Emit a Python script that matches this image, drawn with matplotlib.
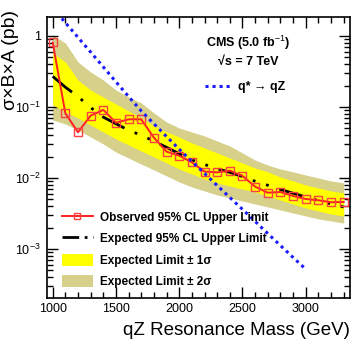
import numpy as np
import matplotlib
matplotlib.use("Agg")
import matplotlib.pyplot as plt
from matplotlib.patches import Patch
from matplotlib.lines import Line2D
from matplotlib.ticker import FixedLocator, FixedFormatter, NullFormatter, MultipleLocator

plt.rcParams['font.family'] = ['Liberation Sans', 'DejaVu Sans']
plt.rcParams['mathtext.fontset'] = 'custom'
plt.rcParams['mathtext.rm'] = 'Liberation Sans'
plt.rcParams['mathtext.it'] = 'Liberation Sans:italic'
plt.rcParams['mathtext.bf'] = 'Liberation Sans:bold'

# ---- data ----
mass = [1000, 1100, 1200, 1300, 1400, 1500, 1600, 1700, 1800, 1900, 2000, 2100,
        2200, 2300, 2400, 2500, 2600, 2700, 2800, 2900, 3000, 3100, 3200, 3300]
observed = [0.81, 0.0815, 0.044, 0.0755, 0.091, 0.060, 0.067, 0.067, 0.037, 0.0235,
            0.0206, 0.0166, 0.0123, 0.0120, 0.0127, 0.0107, 0.00755, 0.0062, 0.00635,
            0.00557, 0.00506, 0.00485, 0.00455, 0.00459]
expected = [0.27, 0.19, 0.14, 0.098, 0.072, 0.058, 0.047, 0.040, 0.033, 0.027, 0.022,
            0.018, 0.0155, 0.0135, 0.012, 0.0105, 0.0090, 0.0079, 0.0069, 0.0061,
            0.0054, 0.0048, 0.0043, 0.0039]
up2 = [1.03, 0.797, 0.430, 0.311, 0.240, 0.173, 0.138, 0.114, 0.0823, 0.0615, 0.0506,
       0.0444, 0.0391, 0.0332, 0.0282, 0.0225, 0.0179, 0.0152, 0.0134, 0.0122, 0.0110,
       0.0100, 0.00908, 0.00851]
up1 = [0.576, 0.430, 0.240, 0.173, 0.138, 0.110, 0.0879, 0.070, 0.054, 0.0444, 0.0378,
       0.0311, 0.0265, 0.0225, 0.0191, 0.0163, 0.0138, 0.0122, 0.0103, 0.00908, 0.00797,
       0.00723, 0.00656, 0.00615]
dn1 = [0.1067, 0.0851, 0.0700, 0.0558, 0.0444, 0.0354, 0.0292, 0.0240, 0.0198, 0.0163,
       0.0134, 0.0114, 0.00968, 0.00851, 0.00771, 0.00700, 0.00635, 0.00557, 0.00490,
       0.00430, 0.00378, 0.00343, 0.00311, 0.00292]
dn2 = [0.0656, 0.0576, 0.0474, 0.0378, 0.0301, 0.0232, 0.0191, 0.0157, 0.0130, 0.0107,
       0.00879, 0.00747, 0.00656, 0.00577, 0.00523, 0.00474, 0.00430, 0.00391, 0.00354,
       0.00321, 0.00292, 0.00265, 0.00248, 0.00232]
theory_mass = [1000, 1100, 1200, 1300, 1400, 1500, 1600, 1700, 1800, 1900, 2000,
               2100, 2200, 2300, 2400, 2500, 2600, 2700, 2800, 2900, 3000]
theory = [2.5, 1.54, 0.955, 0.593, 0.366, 0.226, 0.140, 0.0879, 0.0580, 0.0383, 0.0254,
          0.0171, 0.0116, 0.00784, 0.00531, 0.00362, 0.00245, 0.00165, 0.00112,
          0.00076, 0.00052]

ytick_vals = [1e-3, 1e-2, 1e-1, 1]
ytick_labels = ['$10^{-3}$', '$10^{-2}$', '$10^{-1}$', '1']
xtick_vals = [1000, 1500, 2000, 2500, 3000]

# ---- figure ----
fig = plt.figure(figsize=(3.57, 3.44), dpi=100)
ax = fig.add_axes([47/357, 46/344, 303/357, 281/344])

yellow = '#ffff00'
khaki = '#d6d08a'

b2 = ax.fill_between(mass, dn2, up2, color=khaki, lw=0, zorder=1)
b1 = ax.fill_between(mass, dn1, up1, color=yellow, lw=0, zorder=2)
le, = ax.plot(mass, expected, color='black', lw=2.0, dashes=(9, 4, 1, 4, 1, 4), zorder=3)
lo, = ax.plot(mass, observed, color='#ff2020', lw=1.4, marker='s', ms=5.5,
              mfc='none', mec='#ff4040', mew=1.0, zorder=4)
lt, = ax.plot(theory_mass, theory, color='#1a1aff', lw=2.2, linestyle=(0, (1, 1.3)), zorder=5)

ax.set_yscale('log')
ax.set_xlim(955, 3350)
ax.set_ylim(2.04e-4, 1.85)

ax.yaxis.set_major_locator(FixedLocator(ytick_vals))
ax.yaxis.set_major_formatter(FixedFormatter(ytick_labels))
ax.yaxis.set_minor_formatter(NullFormatter())
ax.xaxis.set_major_locator(FixedLocator(xtick_vals))
ax.xaxis.set_minor_locator(MultipleLocator(100))
ax.tick_params(which='both', direction='in', top=True, right=True, width=1.0)
ax.tick_params(which='major', length=8, labelsize=9)
ax.tick_params(axis='y', which='major', pad=4.5)
ax.tick_params(which='minor', length=4)
for s in ax.spines.values():
    s.set_linewidth(1.2)

ax.set_xlabel('qZ Resonance Mass (GeV)', fontsize=13.5, loc='right')
ax.xaxis.set_label_coords(1.0, -0.085)
ax.set_ylabel('σ×B×A (pb)', fontsize=14, loc='top')
ax.yaxis.set_label_coords(-0.092, 1.025)

ax.text(0.663, 0.907, 'CMS (5.0 fb$^{-1}$)', transform=ax.transAxes, ha='center',
        va='center', fontsize=9, fontweight='bold')
ax.text(0.663, 0.840, '√s = 7 TeV', transform=ax.transAxes, ha='center',
        va='center', fontsize=9, fontweight='bold')

leg1 = ax.legend([lt], ['q* → qZ'], loc='center left', bbox_to_anchor=(0.52, 0.75),
                 frameon=False, prop={'weight': 'bold', 'size': 9}, handlelength=2.1,
                 handletextpad=0.6, borderpad=0, borderaxespad=0)
ax.add_artist(leg1)

h_o = Line2D([], [], color='#ff2020', lw=1.4, marker='s', ms=5, mfc='none', mec='#ff4040')
h_e = Line2D([], [], color='black', lw=2.0, dashes=(6, 2, 1, 2, 1, 2))
h_1 = Patch(facecolor=yellow, edgecolor='none')
h_2 = Patch(facecolor=khaki, edgecolor='none')
ax.legend([h_o, h_e, h_1, h_2],
          ['Observed 95% CL Upper Limit', 'Expected 95% CL Upper Limit',
           'Expected Limit ± 1σ', 'Expected Limit ± 2σ'],
          loc='lower left', bbox_to_anchor=(0.05, 0.035), frameon=False,
          prop={'weight': 'bold', 'size': 8.5}, handlelength=2.6, handleheight=1.2,
          handletextpad=0.6, labelspacing=0.72, borderpad=0, borderaxespad=0)

fig.savefig('out.png', dpi=100)
